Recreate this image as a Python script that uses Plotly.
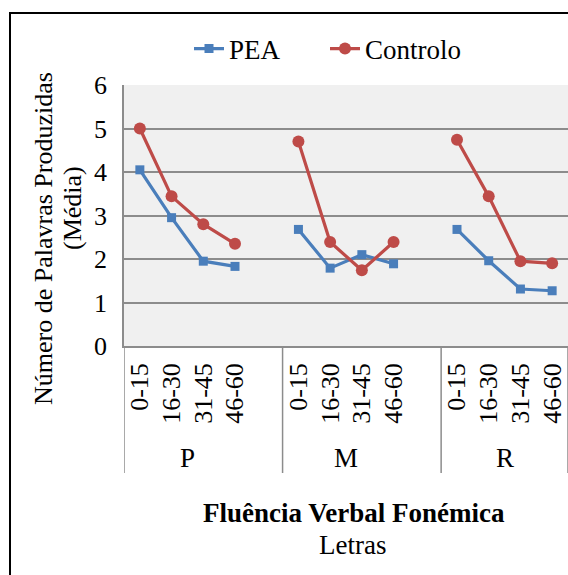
import plotly.graph_objects as go

GROUPS = ["P", "M", "R"]
INTERVALS = ["0-15", "16-30", "31-45", "46-60"]
PEA = {
    "P": [4.05, 2.95, 1.95, 1.83],
    "M": [2.68, 1.79, 2.10, 1.89],
    "R": [2.68, 1.96, 1.31, 1.27],
}
CONTROLO = {
    "P": [5.00, 3.44, 2.80, 2.35],
    "M": [4.70, 2.39, 1.74, 2.39],
    "R": [4.74, 3.44, 1.95, 1.90],
}
Y_TICKS = [0, 1, 2, 3, 4, 5, 6]

W, H = 568, 575
L, R, T, B = 124, 0, 85, 229
FONT = "Liberation Serif, Times New Roman, serif"
FS = 26      # rotated texts and ticks
FS_H = 27    # horizontal labels (legend, titles)
GRID = "#8c8c8c"

PW = W - L - R
PH = H - T - B


def px(x):
    return (x - L) / PW


def py(y):
    return (H - B - y) / PH


# one blank slot between letter groups, like the Excel category axis
SLOT = len(INTERVALS) + 1
xs, tick_vals, tick_text = [], [], []
pea_y, ctrl_y = [], []
for g, letter in enumerate(GROUPS):
    for i, label in enumerate(INTERVALS):
        xs.append(g * SLOT + i)
        tick_vals.append(g * SLOT + i)
        tick_text.append(label)
        pea_y.append(PEA[letter][i])
        ctrl_y.append(CONTROLO[letter][i])
    if g < len(GROUPS) - 1:
        xs.append(g * SLOT + len(INTERVALS))
        pea_y.append(None)
        ctrl_y.append(None)

fig = go.Figure()
fig.add_trace(go.Scatter(
    x=xs, y=pea_y, mode="lines+markers", name="PEA",
    line={"color": "#4a7ebb", "width": 3.2},
    marker={"symbol": "square", "size": 9, "color": "#4a7ebb"},
    connectgaps=False,
))
fig.add_trace(go.Scatter(
    x=xs, y=ctrl_y, mode="lines+markers", name="Controlo",
    line={"color": "#be4b48", "width": 3.2},
    marker={"symbol": "circle", "size": 12, "color": "#be4b48"},
    connectgaps=False,
))

# category separators below the plot
n_slots = len(GROUPS) * SLOT - 1
for g in range(len(GROUPS) + 1):
    xv = min(g * SLOT, n_slots) - 0.5
    fig.add_shape(type="line", xref="x", yref="paper",
                  x0=xv, x1=xv, y0=0, y1=py(473),
                  line={"color": GRID, "width": 1.5})

rot_font = {"size": FS, "family": FONT, "color": "black"}
hor_font = {"size": FS_H, "family": FONT, "color": "black"}
annotations = []
for g, letter in enumerate(GROUPS):
    annotations.append(dict(
        x=g * SLOT + (len(INTERVALS) - 1) / 2, xref="x",
        y=py(458), yref="paper", text=letter, showarrow=False,
        xanchor="center", yanchor="middle", font=hor_font,
    ))
annotations += [
    dict(x=px(43), y=py(239), xref="paper", yref="paper",
         text="Número de Palavras Produzidas", textangle=-90, showarrow=False,
         xanchor="center", yanchor="middle", font=rot_font),
    dict(x=px(72), y=py(208), xref="paper", yref="paper",
         text="(Média)", textangle=-90, showarrow=False,
         xanchor="center", yanchor="middle", font=rot_font),
    dict(x=px(354), y=py(513), xref="paper", yref="paper",
         text="<b>Fluência Verbal Fonémica</b>", showarrow=False,
         xanchor="center", yanchor="middle", font=hor_font),
    dict(x=px(352), y=py(545), xref="paper", yref="paper",
         text="Letras", showarrow=False,
         xanchor="center", yanchor="middle", font=hor_font),
]

# outer chart frame (right and bottom edges fall outside the picture)
fig.add_shape(type="line", xref="paper", yref="paper",
              x0=px(10), x1=px(W), y0=py(13), y1=py(13),
              line={"color": "#000000", "width": 2}, layer="above")
fig.add_shape(type="line", xref="paper", yref="paper",
              x0=px(10), x1=px(10), y0=py(H + 5), y1=py(12),
              line={"color": "#000000", "width": 2}, layer="above")

fig.update_layout(
    width=W, height=H,
    margin={"l": L, "r": R, "t": T, "b": B, "pad": 0},
    paper_bgcolor="white",
    plot_bgcolor="#f0f0f0",
    font={"family": FONT, "size": FS, "color": "black"},
    showlegend=True,
    legend={
        "orientation": "h",
        "x": px(189), "xanchor": "left",
        "y": py(49), "yanchor": "middle",
        "font": hor_font,
        "bgcolor": "rgba(0,0,0,0)",
        "entrywidth": 91,
        "entrywidthmode": "pixels",
    },
    annotations=annotations,
    xaxis={
        "range": [-0.5, n_slots - 0.5],
        "tickmode": "array",
        "tickvals": tick_vals,
        "ticktext": tick_text,
        "tickangle": -90,
        "ticklabelstandoff": 5,
        "showgrid": False,
        "zeroline": False,
        "showline": True,
        "linecolor": GRID,
        "linewidth": 1.5,
        "tickfont": rot_font,
    },
    yaxis={
        "range": [0, 6],
        "tickmode": "array",
        "tickvals": Y_TICKS,
        "showgrid": True,
        "gridcolor": GRID,
        "gridwidth": 1.5,
        "zeroline": False,
        "showline": True,
        "linecolor": GRID,
        "linewidth": 1.5,
        "ticklabelstandoff": 10,
        "tickfont": rot_font,
    },
)

fig.write_html(
    "out.html",
    config={"displayModeBar": False},
    post_script="document.body.style.margin = '0';",
)
